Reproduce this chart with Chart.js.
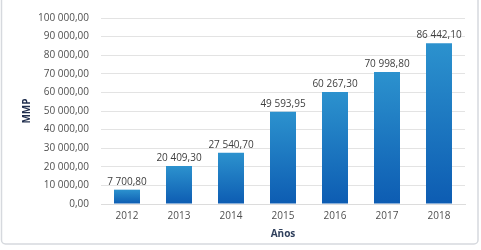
<!DOCTYPE html>
<html><head><meta charset="utf-8">
<script src="https://cdn.jsdelivr.net/npm/chart.js@4/dist/chart.umd.min.js"></script>
<style>html,body{margin:0;padding:0;background:#fff;}#wrap{width:481px;height:250px;position:relative;}</style>
</head><body><div id="wrap"><canvas id="c" width="481" height="250"></canvas></div>
<script>
const categories = ["2012","2013","2014","2015","2016","2017","2018"];
const values = [7700.80, 20409.30, 27540.70, 49593.95, 60267.30, 70998.80, 86442.10];
const yTitle = "MMP";
const xTitle = "Años";

function fmt(v){
  const parts = v.toFixed(2).split(".");
  const int = parts[0].replace(/\B(?=(\d{3})+(?!\d))/g, " ");
  return int + "," + parts[1];
}

const frame = {
  id:'frame',
  beforeDraw(chart){
    const ctx = chart.ctx;
    ctx.save();
    ctx.fillStyle = '#fff';
    ctx.fillRect(0,0,chart.width,chart.height);
    ctx.strokeStyle = '#d6d9de';
    ctx.lineWidth = 1.5;
    ctx.beginPath();
    ctx.roundRect(1.5,-4,chart.width-4.5,chart.height-2,4);
    ctx.stroke();
    ctx.restore();
  }
};
const labels = {
  id:'labels',
  afterDatasetsDraw(chart){
    const ctx = chart.ctx;
    const meta = chart.getDatasetMeta(0);
    ctx.save();
    ctx.font = '10px "Open Sans"';
    ctx.fillStyle = '#404040';
    ctx.textAlign = 'center';
    ctx.textBaseline = 'bottom';
    meta.data.forEach((bar,i)=>{
      ctx.fillText(fmt(values[i]), bar.x, bar.y - 3);
    });
    ctx.restore();
  }
};

new Chart(document.getElementById('c'), {
  type:'bar',
  data:{labels:categories, datasets:[{
    data:values,
    backgroundColor(ctx){
      const chart = ctx.chart;
      const y = chart.scales && chart.scales.y;
      if(!chart.chartArea || !y || ctx.dataIndex === undefined) return '#1a76c0';
      const top = y.getPixelForValue(values[ctx.dataIndex]);
      const base = y.getPixelForValue(0);
      if(!isFinite(top) || !isFinite(base) || top===base) return '#1a76c0';
      const g = chart.ctx.createLinearGradient(0, top, 0, base);
      g.addColorStop(0,'#2c92ce');
      g.addColorStop(1,'#0d5cb2');
      return g;
    },
    borderWidth:0,
    categoryPercentage:0.5,
    barPercentage:1
  }]},
  options:{
    responsive:false, animation:false,
    devicePixelRatio:1,
    layout:{padding:{left:0,right:16,top:11,bottom:0}},
    plugins:{legend:{display:false}, tooltip:{enabled:false}},
    scales:{
      x:{
        grid:{display:false, drawTicks:false},
        border:{display:true,color:'#dcdcdc',width:1},
        ticks:{color:'#505050',font:{family:'Open Sans',size:10},padding:6,maxRotation:0},
        title:{display:true,text:xTitle,color:'#2f3f5c',font:{family:'Open Sans',size:10,weight:'bold'},padding:{top:0,bottom:10}},
        afterFit(s){ s.height = 46; }
      },
      y:{
        min:0,max:100000,
        ticks:{stepSize:10000,color:'#505050',font:{family:'Open Sans',size:10},padding:12,callback:v=>fmt(v)},
        grid:{color:'#e3e3e3',drawTicks:false,lineWidth:1},
        border:{display:false},
        title:{display:true,text:yTitle,color:'#1f2d4d',font:{family:'Open Sans',size:10,weight:'bold'},padding:{top:21,bottom:0}},
        afterFit(s){ s.width = 101; }
      }
    }
  },
  plugins:[frame,labels]
});
</script>
</body></html>
